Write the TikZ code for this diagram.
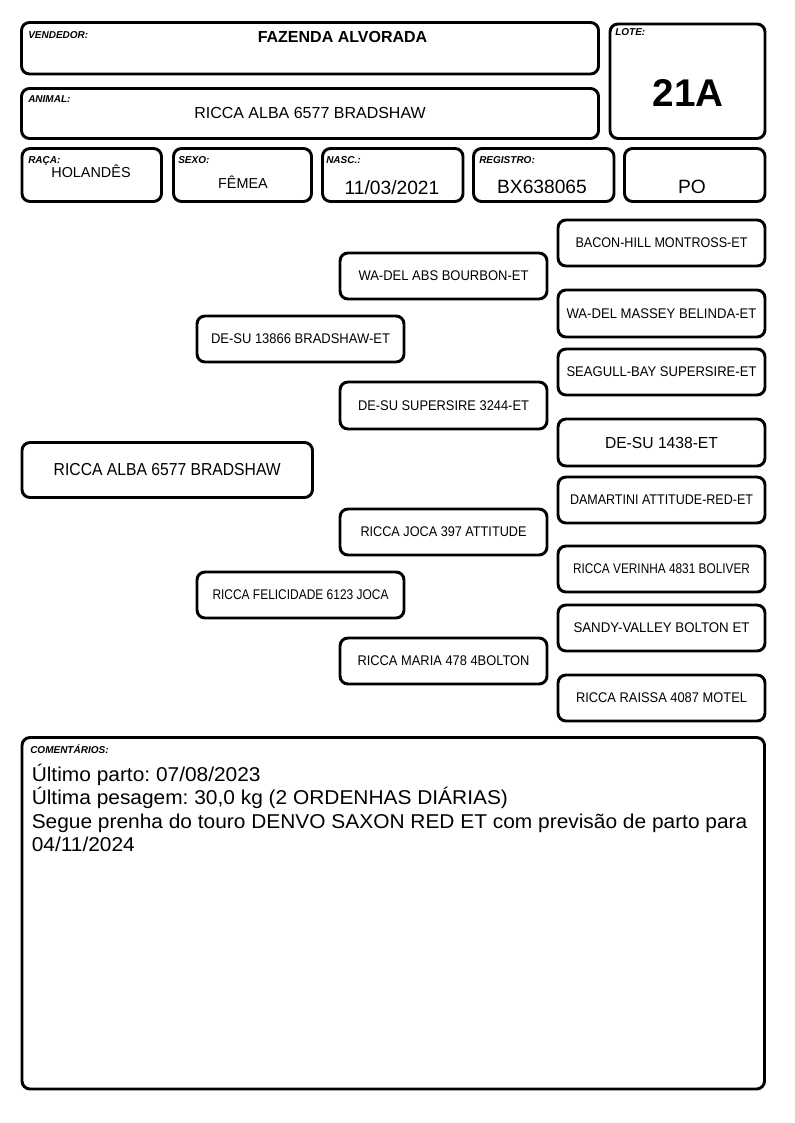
\documentclass[tikz,border=0pt]{standalone}
\usepackage{fontspec}
\setmainfont{Liberation Sans}
\usepackage{graphicx}
\usetikzlibrary{fit}
\frenchspacing
\newlength\pxlen
\setlength\pxlen{0.75pt}
\newcommand\hw[2]{\resizebox{#1\pxlen}{\height}{#2}}
\tikzset{
  frame/.style={draw, line width=2.2pt, rounded corners=6pt, inner sep=0pt},
  ptext/.style={inner sep=0pt, anchor=center, font=\fontsize{10.5}{12}\selectfont},
  lab/.style={font=\fontsize{7.5}{9}\selectfont\bfseries\itshape, inner sep=0pt, anchor=base west},
  val/.style={inner sep=0pt, anchor=base},
  ctext/.style={inner sep=0pt, anchor=base west, font=\fontsize{15}{17}\selectfont},
}
\begin{document}
\begin{tikzpicture}[x=0.75pt,y=-0.75pt]
\useasboundingbox (0,0) rectangle (794,1123);
% header boxes
\node[frame, fit={(21.5,22.5)(598.5,74)}] (vend) {};
\node[frame, fit={(21.5,88.5)(598.5,138.5)}] (anim) {};
\node[frame, fit={(610,24)(765,138.5)}] (lote) {};
\node[frame, fit={(22,148.5)(161.5,201.5)}] (raca) {};
\node[frame, fit={(173.5,148.5)(311.5,201.5)}] (sexo) {};
\node[frame, fit={(322.5,148.5)(463,201.5)}] (nasc) {};
\node[frame, fit={(473.5,148.5)(614,201.5)}] (reg) {};
\node[frame, fit={(624.5,148.5)(765,201.5)}] (po) {};
% labels
\node[lab] (vendlab) at (28,39) {VENDEDOR:};
\node[lab] (animlab) at (28,103) {ANIMAL:};
\node[lab] (lotelab) at (615,35.5) {LOTE:};
\node[lab] (racalab) at (28,164) {RAÇA:};
\node[lab] (sexolab) at (178,164) {SEXO:};
\node[lab] (nasclab) at (326,164) {NASC.:};
\node[lab] (reglab) at (479,164) {REGISTRO:};
% values
\node[val, font=\fontsize{12}{14}\selectfont\bfseries] (vendval) at (342.5,43) {FAZENDA ALVORADA};
\node[val, font=\fontsize{12}{14}\selectfont] (animval) at (310,119) {RICCA ALBA 6577 BRADSHAW};
\node[val, font=\fontsize{29}{32}\selectfont\bfseries] (loteval) at (688,107) {21A};
\node[val, font=\fontsize{10.8}{13}\selectfont] (racaval) at (91,178) {HOLANDÊS};
\node[val, font=\fontsize{10.8}{13}\selectfont] (sexoval) at (243,189) {FÊMEA};
\node[val, font=\fontsize{14.4}{16}\selectfont] (nascval) at (392,195) {11/03/2021};
\node[val, font=\fontsize{14.4}{16}\selectfont] (regval) at (542,194) {BX638065};
\node[val, font=\fontsize{14.4}{16}\selectfont] (poval) at (692,194) {PO};
% pedigree generation 3
\node[frame, fit={(558,220)(765,266)}] (g31) {};
\node[frame, fit={(558,290)(765,337)}] (g32) {};
\node[frame, fit={(558,349)(765,395)}] (g33) {};
\node[frame, fit={(558,419)(765,466)}] (g34) {};
\node[frame, fit={(558,477)(765,523)}] (g35) {};
\node[frame, fit={(558,546)(765,592)}] (g36) {};
\node[frame, fit={(558,605)(765,651)}] (g37) {};
\node[frame, fit={(558,675)(765,721)}] (g38) {};
\node[ptext] (t31) at (g31.center) {\hw{172}{BACON-HILL MONTROSS-ET}};
\node[ptext] (t32) at (g32.center) {\hw{190}{WA-DEL MASSEY BELINDA-ET}};
\node[ptext] (t33) at (g33.center) {\hw{190}{SEAGULL-BAY SUPERSIRE-ET}};
\node[ptext, font=\fontsize{12}{14}\selectfont] (t34) at (g34.center) {\hw{113}{DE-SU 1438-ET}};
\node[ptext] (t35) at (g35.center) {\hw{183}{DAMARTINI ATTITUDE-RED-ET}};
\node[ptext] (t36) at (g36.center) {\hw{177}{RICCA VERINHA 4831 BOLIVER}};
\node[ptext] (t37) at (g37.center) {\hw{176}{SANDY-VALLEY BOLTON ET}};
\node[ptext] (t38) at (g38.center) {\hw{171}{RICCA RAISSA 4087 MOTEL}};
% generation 2
\node[frame, fit={(340,253)(547,299)}] (g21) {};
\node[frame, fit={(340,382)(547,429)}] (g22) {};
\node[frame, fit={(340,509)(547,555)}] (g23) {};
\node[frame, fit={(340,638)(547,684)}] (g24) {};
\node[ptext] (t21) at (g21.center) {\hw{170}{WA-DEL ABS BOURBON-ET}};
\node[ptext] (t22) at (g22.center) {\hw{171}{DE-SU SUPERSIRE 3244-ET}};
\node[ptext] (t23) at (g23.center) {\hw{166}{RICCA JOCA 397 ATTITUDE}};
\node[ptext] (t24) at (g24.center) {\hw{172}{RICCA MARIA 478 4BOLTON}};
% generation 1
\node[frame, fit={(197,316)(404,362)}] (g11) {};
\node[frame, fit={(197,572)(404,618)}] (g12) {};
\node[ptext] (t11) at (g11.center) {\hw{179}{DE-SU 13866 BRADSHAW-ET}};
\node[ptext] (t12) at (g12.center) {\hw{176}{RICCA FELICIDADE 6123 JOCA}};
% generation 0
\node[frame, fit={(22,442.5)(312.5,497.5)}] (g0) {};
\node[ptext, font=\fontsize{13}{15}\selectfont] (t0) at (g0.center) {\hw{227}{RICCA ALBA 6577 BRADSHAW}};
% comments
\node[frame, fit={(22,737.5)(764.5,1089)}] (com) {};
\node[lab] (comlab) at (30,753) {COMENTÁRIOS:};
\node[ctext] (c1) at (31.5,781) {\scalebox{1.045}[1]{Último parto: 07/08/2023}};
\node[ctext] (c2) at (31.5,804.5) {\scalebox{1.045}[1]{Última pesagem: 30,0 kg (2 ORDENHAS DIÁRIAS)}};
\node[ctext] (c3) at (31.5,828) {\scalebox{1.045}[1]{Segue prenha do touro DENVO SAXON RED ET com previsão de parto para}};
\node[ctext] (c4) at (31.5,851.5) {\scalebox{1.045}[1]{04/11/2024}};
\end{tikzpicture}
\end{document}
